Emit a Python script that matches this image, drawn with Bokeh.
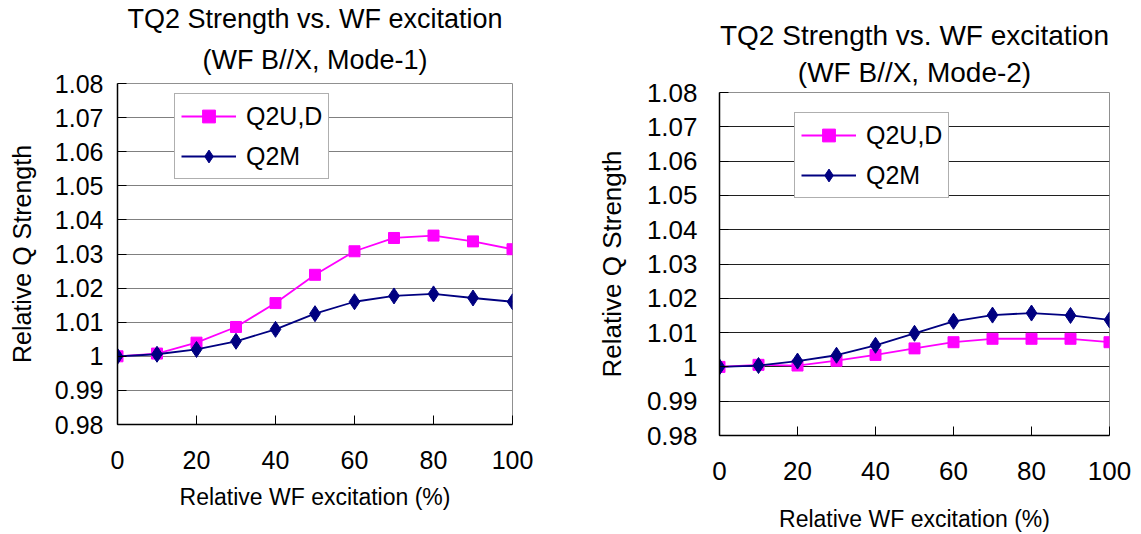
from bokeh.plotting import figure
from bokeh.layouts import row, column
from bokeh.models import FixedTicker, Range1d, Legend, LegendItem, Title
from bokeh.embed import file_html
from bokeh.resources import INLINE

# ---- data ----
x_vals = [0, 10, 20, 30, 40, 50, 60, 70, 80, 90, 100]
mode1_q2ud = [1.0000, 1.0008, 1.0040, 1.0086, 1.0156, 1.0239, 1.0308, 1.0347, 1.0354, 1.0337, 1.0314]
mode1_q2m = [1.0000, 1.0006, 1.0020, 1.0044, 1.0079, 1.0125, 1.0160, 1.0177, 1.0183, 1.0171, 1.0160]
mode2_q2ud = [1.0000, 1.0006, 1.0004, 1.0018, 1.0035, 1.0054, 1.0072, 1.0082, 1.0082, 1.0082, 1.0072]
mode2_q2m = [1.0000, 1.0004, 1.0017, 1.0034, 1.0063, 1.0098, 1.0133, 1.0151, 1.0157, 1.0150, 1.0137]

y_ticks = [0.98, 0.99, 1.0, 1.01, 1.02, 1.03, 1.04, 1.05, 1.06, 1.07, 1.08]
y_tick_labels = ["0.98", "0.99", "1", "1.01", "1.02", "1.03", "1.04", "1.05", "1.06", "1.07", "1.08"]
x_ticks = [0, 20, 40, 60, 80, 100]

series_names = ["Q2U,D", "Q2M"]
title_line1 = "TQ2 Strength vs. WF excitation"
title_line2_m1 = "(WF B//X, Mode-1)"
title_line2_m2 = "(WF B//X, Mode-2)"
x_title = "Relative WF excitation (%)"
y_title = "Relative Q Strength"

FONT = "Liberation Sans"
MAGENTA = "#FF00FF"
NAVY = "#000080"


def make_chart(q2ud, q2m, sub, w, h, bl, br, bt, bb, grid_color, fs_tick, fs_title,
               fs_ytitle, fs_xtitle, fs_leg, legend_loc, title_stand, xstand,
               xlabstand, ystand, ylabstand):
    p = figure(width=w, height=h, output_backend="svg", toolbar_location=None,
               x_range=Range1d(0, 100), y_range=Range1d(0.98, 1.08),
               min_border_left=bl, min_border_right=br, min_border_top=bt,
               min_border_bottom=bb, background_fill_color="white",
               border_fill_color="white")

    # two-line title: sub-title nearest the frame, main line above it
    p.add_layout(Title(text=sub, align="center", text_font=FONT,
                       text_font_size=fs_title, text_font_style="normal",
                       text_color="black", standoff=title_stand[1]), "above")
    p.add_layout(Title(text=title_line1, align="center", text_font=FONT,
                       text_font_size=fs_title, text_font_style="normal",
                       text_color="black", standoff=title_stand[0]), "above")

    p.outline_line_color = "#909090"
    p.xgrid.visible = False
    p.ygrid.ticker = FixedTicker(ticks=y_ticks)
    p.ygrid.grid_line_color = grid_color
    p.ygrid.grid_line_width = 1

    xa = p.xaxis[0]
    xa.ticker = FixedTicker(ticks=x_ticks)
    xa.axis_line_color = "black"
    xa.axis_line_width = 1.5
    xa.major_tick_in = 9
    xa.major_tick_out = 0
    xa.minor_tick_line_color = None
    xa.major_tick_line_color = "black"
    xa.major_label_text_font = FONT
    xa.major_label_text_font_size = fs_tick
    xa.major_label_text_color = "black"
    xa.major_label_standoff = xstand
    xa.axis_label = x_title
    xa.axis_label_text_font = FONT
    xa.axis_label_text_font_size = fs_xtitle
    xa.axis_label_text_font_style = "normal"
    xa.axis_label_text_color = "black"
    xa.axis_label_standoff = xlabstand

    ya = p.yaxis[0]
    ya.ticker = FixedTicker(ticks=y_ticks)
    ya.major_label_overrides = {t: l for t, l in zip(y_ticks, y_tick_labels)}
    ya.axis_line_color = "black"
    ya.axis_line_width = 1.5
    ya.major_tick_in = 9
    ya.major_tick_out = 0
    ya.minor_tick_line_color = None
    ya.major_label_text_font = FONT
    ya.major_label_text_font_size = fs_tick
    ya.major_label_text_color = "black"
    ya.major_label_standoff = ystand
    ya.axis_label = y_title
    ya.axis_label_text_font = FONT
    ya.axis_label_text_font_size = fs_ytitle
    ya.axis_label_text_font_style = "normal"
    ya.axis_label_text_color = "black"
    ya.axis_label_standoff = ylabstand

    l1 = p.line(x_vals, q2ud, line_color=MAGENTA, line_width=1.8)
    s1 = p.scatter(x_vals, q2ud, marker="square", size=11, fill_color=MAGENTA,
                   line_color=MAGENTA)
    l2 = p.line(x_vals, q2m, line_color=NAVY, line_width=1.8)
    s2 = p.scatter(x_vals, q2m, marker="diamond", size=16, fill_color=NAVY,
                   line_color=NAVY)

    leg = Legend(items=[LegendItem(label=series_names[0], renderers=[l1, s1]),
                        LegendItem(label=series_names[1], renderers=[l2, s2])],
                 location=legend_loc, orientation="vertical",
                 label_text_font=FONT, label_text_font_size=fs_leg,
                 label_text_color="black", glyph_width=55, glyph_height=32,
                 spacing=8, padding=6, margin=0, label_standoff=10,
                 border_line_color="#606060", border_line_width=1.2,
                 background_fill_color="white", background_fill_alpha=1)
    p.add_layout(leg, "center")
    return p


p1 = make_chart(mode1_q2ud, mode1_q2m, title_line2_m1, 560, 534,
                117, 48, 83, 110, "#808080", "25px", "27px", "25px", "23px", "25px",
                (57, 245), (0, 18), 26, 12, 14, 16)
p2 = make_chart(mode2_q2ud, mode2_q2m, title_line2_m2, 581, 534,
                159, 32, 92, 99, "#202020", "26px", "28px", "26px", "23px", "25px",
                (75, 237), (0, 9), 26, 23, 22, 17)

layout = row(column(p1), column(p2), spacing=0)
open("out.html", "w").write(file_html(layout, INLINE))
